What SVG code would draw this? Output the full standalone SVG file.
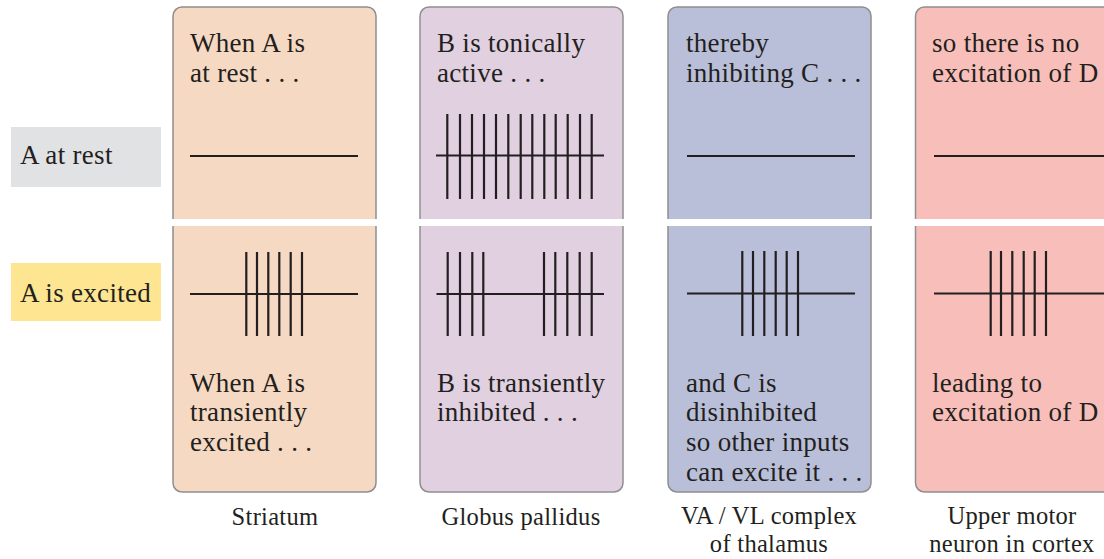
<svg xmlns="http://www.w3.org/2000/svg" width="1104" height="559" viewBox="0 0 1104 559">
<style>
text{font-family:"Liberation Serif","Times New Roman",serif;font-size:27px;letter-spacing:0.3px;fill:#231f20}
.panel{stroke:#8e8e8e;stroke-width:1.5}
.gap{fill:#fff}
.base{stroke:#231f20;stroke-width:2.2;fill:none}
.spk{stroke:#231f20;stroke-width:2.2;fill:none}
.mid{text-anchor:middle;font-size:24.5px}
</style>
<rect width="1104" height="559" fill="#fff"/>
<g id="label-rest"><rect x="11" y="127" width="150" height="60" fill="#e1e2e4"/><text x="20" y="164">A at rest</text></g>
<g id="label-excited"><rect x="11" y="263" width="150" height="58" fill="#fde592"/><text x="20" y="302">A is excited</text></g>

<g id="striatum">
<rect class="panel" x="173" y="7" width="203" height="485" rx="9" fill="#f5d9c3"/>
<rect class="gap" x="171" y="219" width="207" height="7"/>
<text x="190" y="52">When A is</text><text x="190" y="82">at rest . . .</text>
<path class="base" d="M190 156H358"/>
<path class="base" d="M190 294H358"/>
<path class="spk" d="M246.3 252V336M257 252V336M268.3 252V336M279.3 252V336M290.7 252V336M302 252V336"/>
<text x="190" y="392">When A is</text><text x="190" y="421">transiently</text><text x="190" y="451">excited . . .</text>
<text class="mid" x="275" y="525">Striatum</text>
</g>

<g id="globus-pallidus">
<rect class="panel" x="420" y="7" width="203" height="485" rx="9" fill="#e1d0e0"/>
<rect class="gap" x="418" y="219" width="207" height="7"/>
<text x="437" y="52">B is tonically</text><text x="437" y="82">active . . .</text>
<path class="base" d="M436 155.5H604"/>
<path class="spk" d="M447.3 114V199M460 114V199M472 114V199M484 114V199M496 114V199M508.3 114V199M520.7 114V199M532.3 114V199M544.3 114V199M555.7 114V199M567.7 114V199M580 114V199M591.7 114V199"/>
<path class="base" d="M436.5 294H604"/>
<path class="spk" d="M447.7 252V336M460 252V336M472.3 252V336M483.3 252V336M544 252V336M555.3 252V336M567.3 252V336M579.7 252V336M591.7 252V336"/>
<text x="437" y="392">B is transiently</text><text x="437" y="421">inhibited . . .</text>
<text class="mid" x="521" y="525">Globus pallidus</text>
</g>

<g id="thalamus">
<rect class="panel" x="668" y="7" width="203" height="485" rx="9" fill="#b9bfd9"/>
<rect class="gap" x="666" y="219" width="207" height="7"/>
<text x="686" y="52">thereby</text><text x="686" y="82">inhibiting C . . .</text>
<path class="base" d="M687 156H855"/>
<path class="base" d="M687 293.5H855"/>
<path class="spk" d="M742.3 251V336M753 251V336M764.3 251V336M775.7 251V336M786.7 251V336M798 251V336"/>
<text x="686" y="392">and C is</text><text x="686" y="421">disinhibited</text><text x="686" y="451">so other inputs</text><text x="686" y="481">can excite it . . .</text>
<text class="mid" x="769" y="524">VA / VL complex</text><text class="mid" x="769" y="552">of thalamus</text>
</g>

<g id="upper-motor-neuron">
<rect class="panel" x="915.5" y="7" width="205" height="485" rx="9" fill="#f8bfba"/>
<rect class="gap" x="913" y="219" width="200" height="7"/>
<text x="932" y="52">so there is no</text><text x="932" y="82">excitation of D</text>
<path class="base" d="M934 156H1104"/>
<path class="base" d="M934 293.5H1104"/>
<path class="spk" d="M990.7 251V336M1001 251V336M1012.3 251V336M1023.7 251V336M1034.7 251V336M1046 251V336"/>
<text x="932" y="392">leading to</text><text x="932" y="421">excitation of D</text>
<text class="mid" x="1012" y="524">Upper motor</text><text class="mid" x="1012" y="552">neuron in cortex</text>
</g>
<g id="connectors"/>
</svg>
